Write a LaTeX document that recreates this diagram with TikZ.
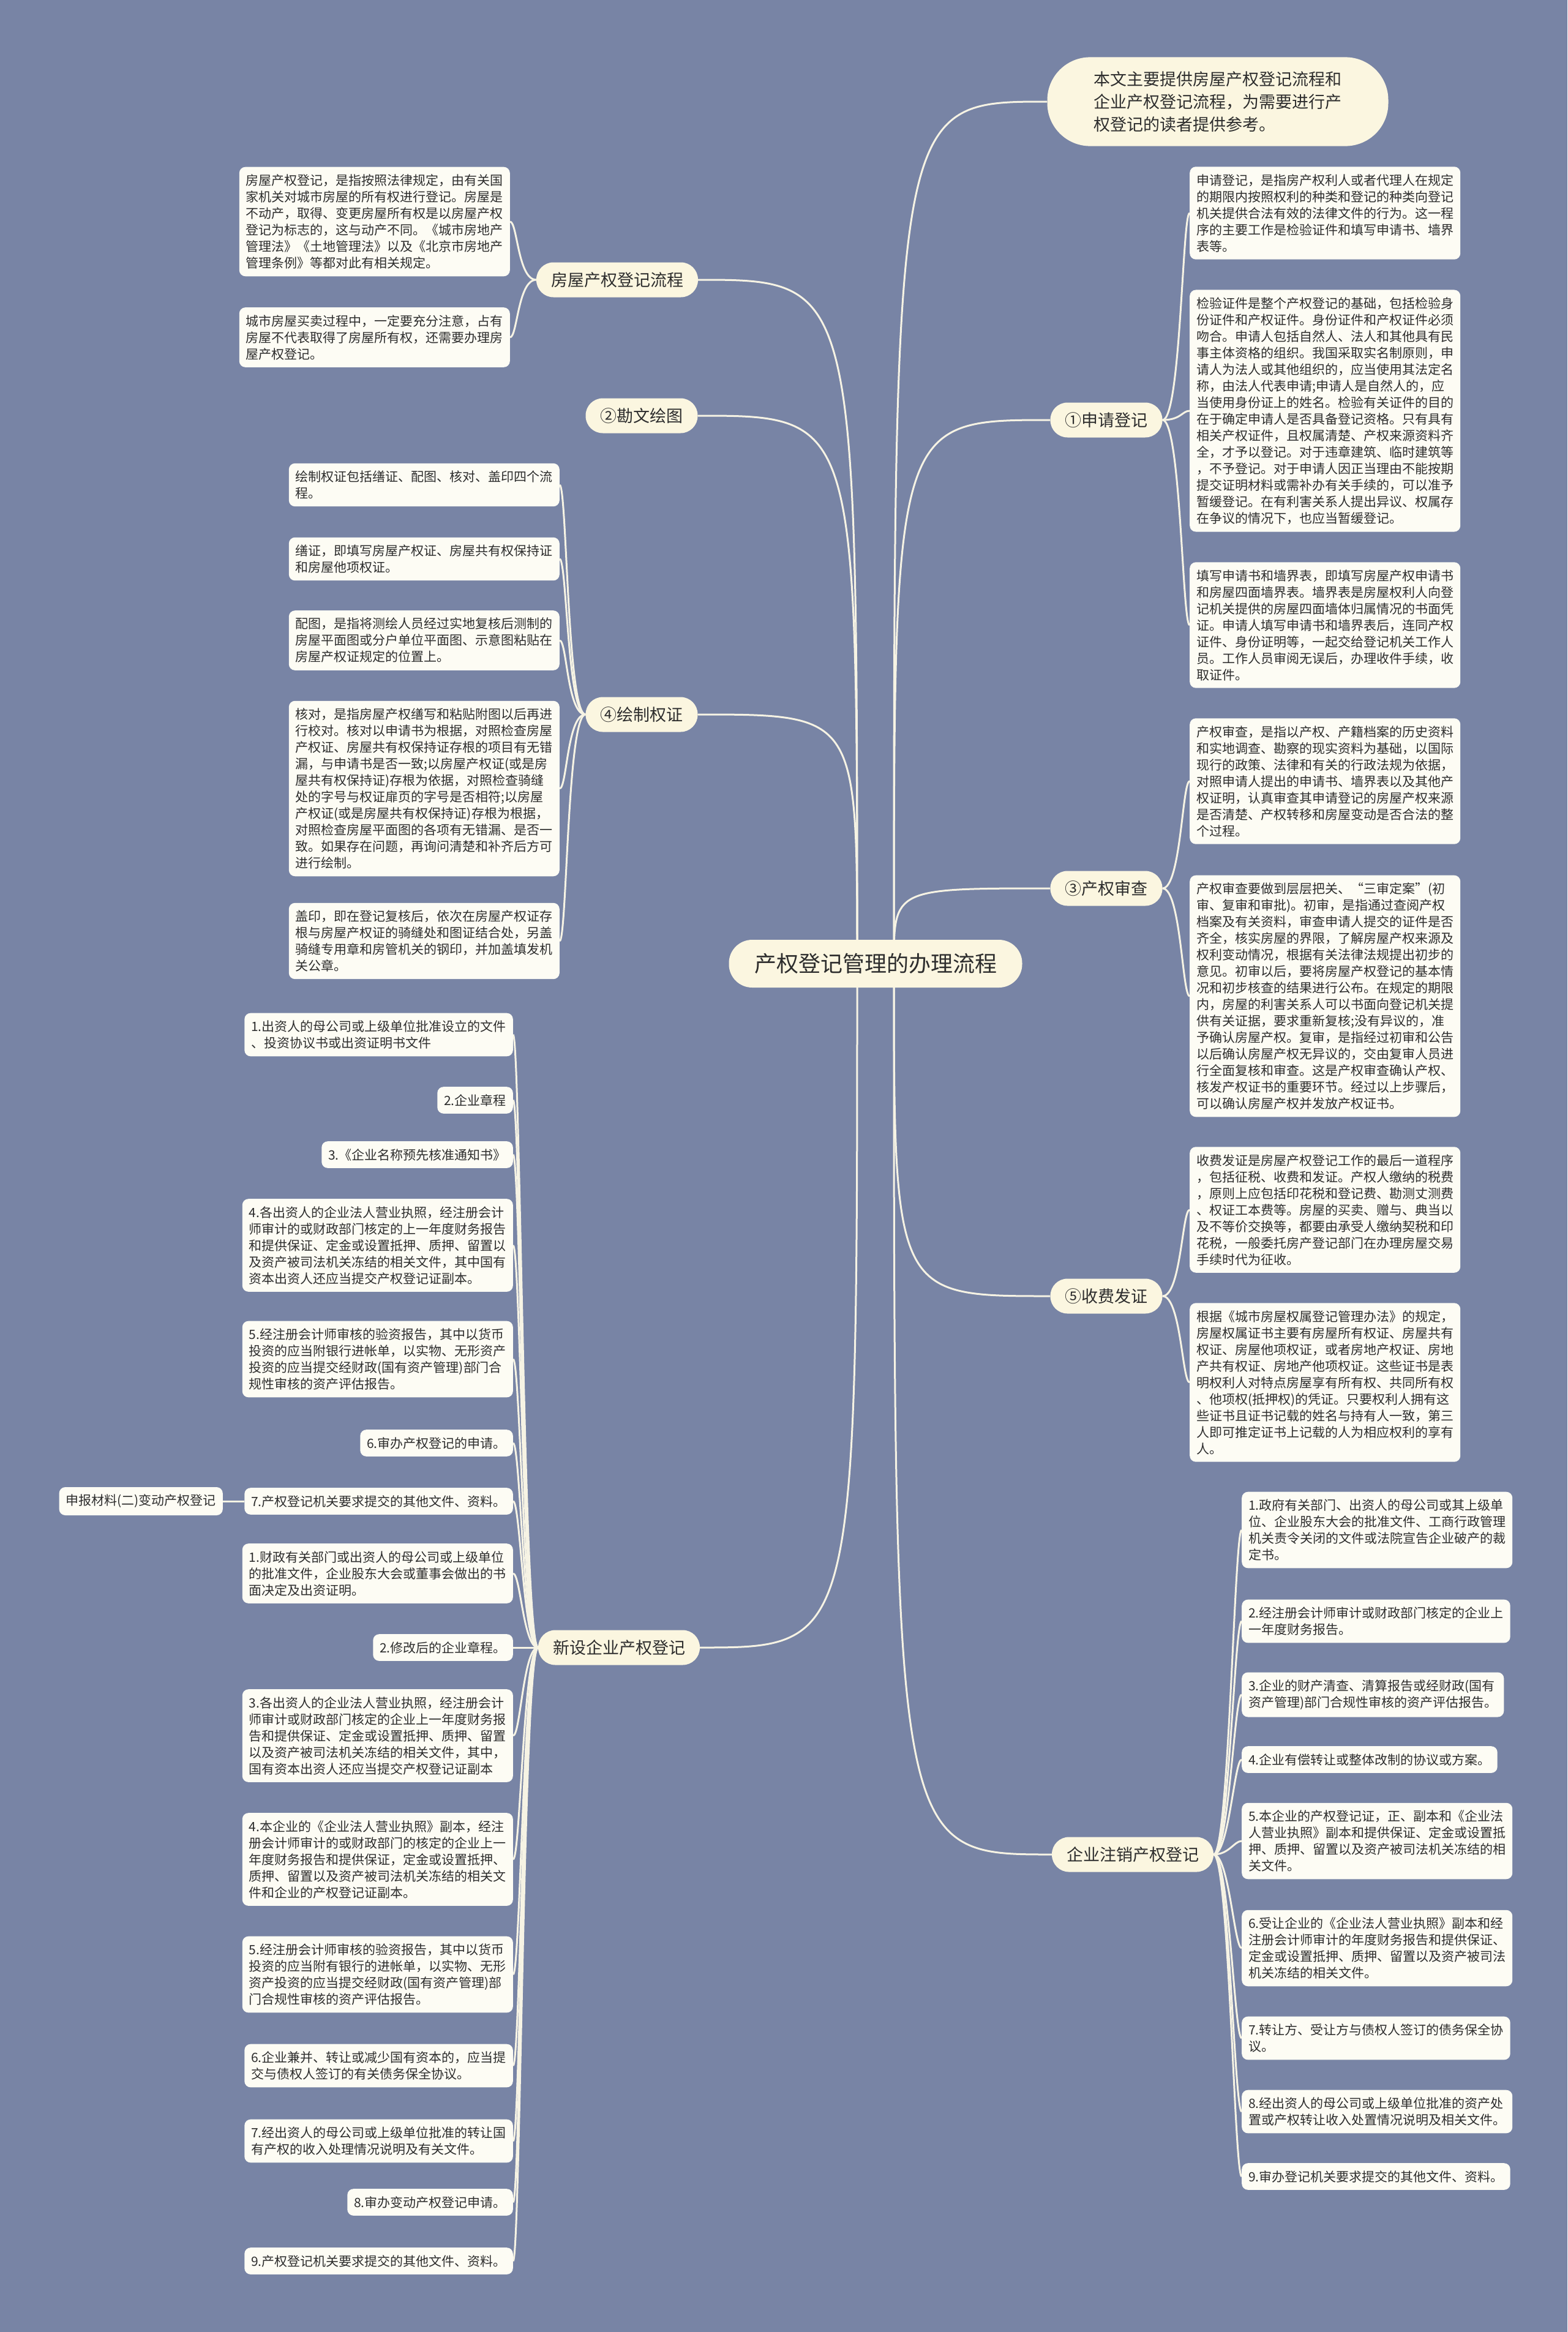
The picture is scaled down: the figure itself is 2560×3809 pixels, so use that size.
\documentclass[tikz,border=0pt]{standalone}
\usepackage{fontspec}
\newfontfamily\cjk{Noto Sans CJK SC}
\usetikzlibrary{backgrounds}
\definecolor{bgc}{RGB}{120,132,165}
\definecolor{leafc}{RGB}{253,252,244}
\definecolor{brc}{RGB}{251,246,224}
\definecolor{linec}{RGB}{246,243,228}
\definecolor{txt}{RGB}{45,45,45}
\tikzset{
  leaf/.style={fill=leafc, rounded corners=10pt, inner xsep=11pt, inner ysep=12pt, align=left, text=txt, font=\cjk\fontsize{21pt}{27pt}\selectfont},
  leafL/.style={leaf, anchor=east},
  leafR/.style={leaf, anchor=west},
  branch/.style={fill=brc, rounded corners=28pt, minimum height=57pt, inner xsep=24pt, text=txt, font=\cjk\fontsize{27pt}{33pt}\selectfont},
  conn/.style={draw=linec, line width=3pt}
}
\begin{document}
\begin{tikzpicture}[x=1pt,y=-1pt]
\useasboundingbox (0,0) rectangle (2560,3809);

% root and intro
\node[fill=brc, rounded corners=38pt, minimum height=78pt, minimum width=479pt, text=txt, font=\cjk\fontsize{36pt}{40pt}\selectfont] (root) at (1430,1574) {产权登记管理的办理流程};
\node[fill=brc, rounded corners=70pt, inner xsep=76pt, inner ysep=23pt, align=left, text=txt, font=\cjk\fontsize{27pt}{37pt}\selectfont] (intro) at (1989,166) {本文主要提供房屋产权登记流程和\\企业产权登记流程，为需要进行产\\权登记的读者提供参考。};
\coordinate (sl) at (1400,1574);
\coordinate (sr) at (1460,1574);

% branches
\node[branch] (b1) at (1008,457) {房屋产权登记流程};
\node[branch] (b2) at (1048,679) {②勘文绘图};
\node[branch] (b4) at (1048,1167) {④绘制权证};
\node[branch] (bx) at (1011,2691) {新设企业产权登记};
\node[branch] (r1) at (1807,686) {①申请登记};
\node[branch] (r3) at (1807,1451) {③产权审查};
\node[branch] (r5) at (1807,2117) {⑤收费发证};
\node[branch] (rz) at (1850,3029) {企业注销产权登记};

% left top leaves
\node[leafL] (l1a) at (833,362) {房屋产权登记，是指按照法律规定，由有关国\\家机关对城市房屋的所有权进行登记。房屋是\\不动产，取得、变更房屋所有权是以房屋产权\\登记为标志的，这与动产不同。《城市房地产\\管理法》《土地管理法》以及《北京市房地产\\管理条例》等都对此有相关规定。};
\node[leafL] (l1b) at (833,551) {城市房屋买卖过程中，一定要充分注意，占有\\房屋不代表取得了房屋所有权，还需要办理房\\屋产权登记。};

% ④ leaves
\node[leafL] (w1) at (914,792) {绘制权证包括缮证、配图、核对、盖印四个流\\程。};
\node[leafL] (w2) at (914,913) {缮证，即填写房屋产权证、房屋共有权保持证\\和房屋他项权证。};
\node[leafL] (w3) at (914,1046) {配图，是指将测绘人员经过实地复核后测制的\\房屋平面图或分户单位平面图、示意图粘贴在\\房屋产权证规定的位置上。};
\node[leafL] (w4) at (914,1288) {核对，是指房屋产权缮写和粘贴附图以后再进\\行校对。核对以申请书为根据，对照检查房屋\\产权证、房屋共有权保持证存根的项目有无错\\漏，与申请书是否一致;以房屋产权证(或是房\\屋共有权保持证)存根为依据，对照检查骑缝\\处的字号与权证扉页的字号是否相符;以房屋\\产权证(或是房屋共有权保持证)存根为根据，\\对照检查房屋平面图的各项有无错漏、是否一\\致。如果存在问题，再询问清楚和补齐后方可\\进行绘制。};
\node[leafL] (w5) at (914,1537) {盖印，即在登记复核后，依次在房屋产权证存\\根与房屋产权证的骑缝处和图证结合处，另盖\\骑缝专用章和房管机关的钢印，并加盖填发机\\关公章。};

% 新设 group A
\node[leafL] (a1) at (838,1690) {1.出资人的母公司或上级单位批准设立的文件\\、投资协议书或出资证明书文件};
\node[leafL] (a2) at (838,1797) {2.企业章程};
\node[leafL] (a3) at (838,1886) {3.《企业名称预先核准通知书》};
\node[leafL] (a4) at (838,2034) {4.各出资人的企业法人营业执照，经注册会计\\师审计的或财政部门核定的上一年度财务报告\\和提供保证、定金或设置抵押、质押、留置以\\及资产被司法机关冻结的相关文件，其中国有\\资本出资人还应当提交产权登记证副本。};
\node[leafL] (a5) at (838,2220) {5.经注册会计师审核的验资报告，其中以货币\\投资的应当附银行进帐单，以实物、无形资产\\投资的应当提交经财政(国有资产管理)部门合\\规性审核的资产评估报告。};
\node[leafL] (a6) at (838,2357) {6.审办产权登记的申请。};
\node[leafL] (a7) at (838,2452) {7.产权登记机关要求提交的其他文件、资料。};
\node[leafL] (sb) at (364,2452) {申报材料(二)变动产权登记};

% 新设 group B
\node[leafL] (c1) at (838,2570) {1.财政有关部门或出资人的母公司或上级单位\\的批准文件，企业股东大会或董事会做出的书\\面决定及出资证明。};
\node[leafL] (c2) at (838,2691) {2.修改后的企业章程。};
\node[leafL] (c3) at (838,2835) {3.各出资人的企业法人营业执照，经注册会计\\师审计或财政部门核定的企业上一年度财务报\\告和提供保证、定金或设置抵押、质押、留置\\以及资产被司法机关冻结的相关文件，其中，\\国有资本出资人还应当提交产权登记证副本};
\node[leafL] (c4) at (838,3037) {4.本企业的《企业法人营业执照》副本，经注\\册会计师审计的或财政部门的核定的企业上一\\年度财务报告和提供保证，定金或设置抵押、\\质押、留置以及资产被司法机关冻结的相关文\\件和企业的产权登记证副本。};
\node[leafL] (c5) at (838,3225) {5.经注册会计师审核的验资报告，其中以货币\\投资的应当附有银行的进帐单，以实物、无形\\资产投资的应当提交经财政(国有资产管理)部\\门合规性审核的资产评估报告。};
\node[leafL] (c6) at (838,3374) {6.企业兼并、转让或减少国有资本的，应当提\\交与债权人签订的有关债务保全协议。};
\node[leafL] (c7) at (838,3497) {7.经出资人的母公司或上级单位批准的转让国\\有产权的收入处理情况说明及有关文件。};
\node[leafL] (c8) at (838,3597) {8.审办变动产权登记申请。};
\node[leafL] (c9) at (838,3693) {9.产权登记机关要求提交的其他文件、资料。};

% ① leaves
\node[leafR] (p1) at (1943,348) {申请登记，是指房产权利人或者代理人在规定\\的期限内按照权利的种类和登记的种类向登记\\机关提供合法有效的法律文件的行为。这一程\\序的主要工作是检验证件和填写申请书、墙界\\表等。};
\node[leafR] (p2) at (1943,671) {检验证件是整个产权登记的基础，包括检验身\\份证件和产权证件。身份证件和产权证件必须\\吻合。申请人包括自然人、法人和其他具有民\\事主体资格的组织。我国采取实名制原则，申\\请人为法人或其他组织的，应当使用其法定名\\称，由法人代表申请;申请人是自然人的，应\\当使用身份证上的姓名。检验有关证件的目的\\在于确定申请人是否具备登记资格。只有具有\\相关产权证件，且权属清楚、产权来源资料齐\\全，才予以登记。对于违章建筑、临时建筑等\\，不予登记。对于申请人因正当理由不能按期\\提交证明材料或需补办有关手续的，可以准予\\暂缓登记。在有利害关系人提出异议、权属存\\在争议的情况下，也应当暂缓登记。};
\node[leafR] (p3) at (1943,1021) {填写申请书和墙界表，即填写房屋产权申请书\\和房屋四面墙界表。墙界表是房屋权利人向登\\记机关提供的房屋四面墙体归属情况的书面凭\\证。申请人填写申请书和墙界表后，连同产权\\证件、身份证明等，一起交给登记机关工作人\\员。工作人员审阅无误后，办理收件手续，收\\取证件。};

% ③ leaves
\node[leafR] (q1) at (1943,1276) {产权审查，是指以产权、产籍档案的历史资料\\和实地调查、勘察的现实资料为基础，以国际\\现行的政策、法律和有关的行政法规为依据，\\对照申请人提出的申请书、墙界表以及其他产\\权证明，认真审查其申请登记的房屋产权来源\\是否清楚、产权转移和房屋变动是否合法的整\\个过程。};
\node[leafR] (q2) at (1943,1627) {产权审查要做到层层把关、“三审定案”(初\\审、复审和审批)。初审，是指通过查阅产权\\档案及有关资料，审查申请人提交的证件是否\\齐全，核实房屋的界限，了解房屋产权来源及\\权利变动情况，根据有关法律法规提出初步的\\意见。初审以后，要将房屋产权登记的基本情\\况和初步核查的结果进行公布。在规定的期限\\内，房屋的利害关系人可以书面向登记机关提\\供有关证据，要求重新复核;没有异议的，准\\予确认房屋产权。复审，是指经过初审和公告\\以后确认房屋产权无异议的，交由复审人员进\\行全面复核和审查。这是产权审查确认产权、\\核发产权证书的重要环节。经过以上步骤后，\\可以确认房屋产权并发放产权证书。};

% ⑤ leaves
\node[leafR] (f1) at (1943,1976) {收费发证是房屋产权登记工作的最后一道程序\\，包括征税、收费和发证。产权人缴纳的税费\\，原则上应包括印花税和登记费、勘测丈测费\\、权证工本费等。房屋的买卖、赠与、典当以\\及不等价交换等，都要由承受人缴纳契税和印\\花税，一般委托房产登记部门在办理房屋交易\\手续时代为征收。};
\node[leafR] (f2) at (1943,2258) {根据《城市房屋权属登记管理办法》的规定，\\房屋权属证书主要有房屋所有权证、房屋共有\\权证、房屋他项权证，或者房地产权证、房地\\产共有权证、房地产他项权证。这些证书是表\\明权利人对特点房屋享有所有权、共同所有权\\、他项权(抵押权)的凭证。只要权利人拥有这\\些证书且证书记载的姓名与持有人一致，第三\\人即可推定证书上记载的人为相应权利的享有\\人。};

% 注销 leaves
\node[leafR] (z1) at (2028,2499) {1.政府有关部门、出资人的母公司或其上级单\\位、企业股东大会的批准文件、工商行政管理\\机关责令关闭的文件或法院宣告企业破产的裁\\定书。};
\node[leafR] (z2) at (2028,2648) {2.经注册会计师审计或财政部门核定的企业上\\一年度财务报告。};
\node[leafR] (z3) at (2028,2768) {3.企业的财产清查、清算报告或经财政(国有\\资产管理)部门合规性审核的资产评估报告。};
\node[leafR] (z4) at (2028,2874) {4.企业有偿转让或整体改制的协议或方案。};
\node[leafR] (z5) at (2028,3007) {5.本企业的产权登记证，正、副本和《企业法\\人营业执照》副本和提供保证、定金或设置抵\\押、质押、留置以及资产被司法机关冻结的相\\关文件。};
\node[leafR] (z6) at (2028,3182) {6.受让企业的《企业法人营业执照》副本和经\\注册会计师审计的年度财务报告和提供保证、\\定金或设置抵押、质押、留置以及资产被司法\\机关冻结的相关文件。};
\node[leafR] (z7) at (2028,3329) {7.转让方、受让方与债权人签订的债务保全协\\议。};
\node[leafR] (z8) at (2028,3449) {8.经出资人的母公司或上级单位批准的资产处\\置或产权转让收入处置情况说明及相关文件。};
\node[leafR] (z9) at (2028,3555) {9.审办登记机关要求提交的其他文件、资料。};

\begin{scope}[on background layer]
\fill[bgc] (0,0) rectangle (2560,3809);
% root to branches
\foreach \b in {b1,b2,b4,bx}{
  \draw[conn] (sl) .. controls (sl |- \b.east) .. (\b.east);
}
\foreach \b in {intro,r1,r3,r5,rz}{
  \draw[conn] (sr) .. controls (sr |- \b.west) .. (\b.west);
}
% branch to leaves, left
\foreach \l in {l1a,l1b}{
  \draw[conn] (b1.west) .. controls +(-30,0) and +(12,0) .. (\l.east);
}
\foreach \l in {w1,w2,w3,w4,w5}{
  \draw[conn] (b4.west) .. controls +(-30,0) and +(12,0) .. (\l.east);
}
\foreach \l in {a1,a2,a3,a4,a5,a6,a7,c1,c2,c3,c4,c5,c6,c7,c8,c9}{
  \draw[conn] (bx.west) .. controls +(-24,0) and +(12,0) .. (\l.east);
}
\draw[conn] (a7.west) -- (sb.east);
% right
\foreach \l in {p1,p2,p3}{
  \draw[conn] (r1.east) .. controls +(30,0) and +(-12,0) .. (\l.west);
}
\foreach \l in {q1,q2}{
  \draw[conn] (r3.east) .. controls +(30,0) and +(-12,0) .. (\l.west);
}
\foreach \l in {f1,f2}{
  \draw[conn] (r5.east) .. controls +(30,0) and +(-12,0) .. (\l.west);
}
\foreach \l in {z1,z2,z3,z4,z5,z6,z7,z8,z9}{
  \draw[conn] (rz.east) .. controls +(25,0) and +(-12,0) .. (\l.west);
}
\end{scope}
\end{tikzpicture}
\end{document}
